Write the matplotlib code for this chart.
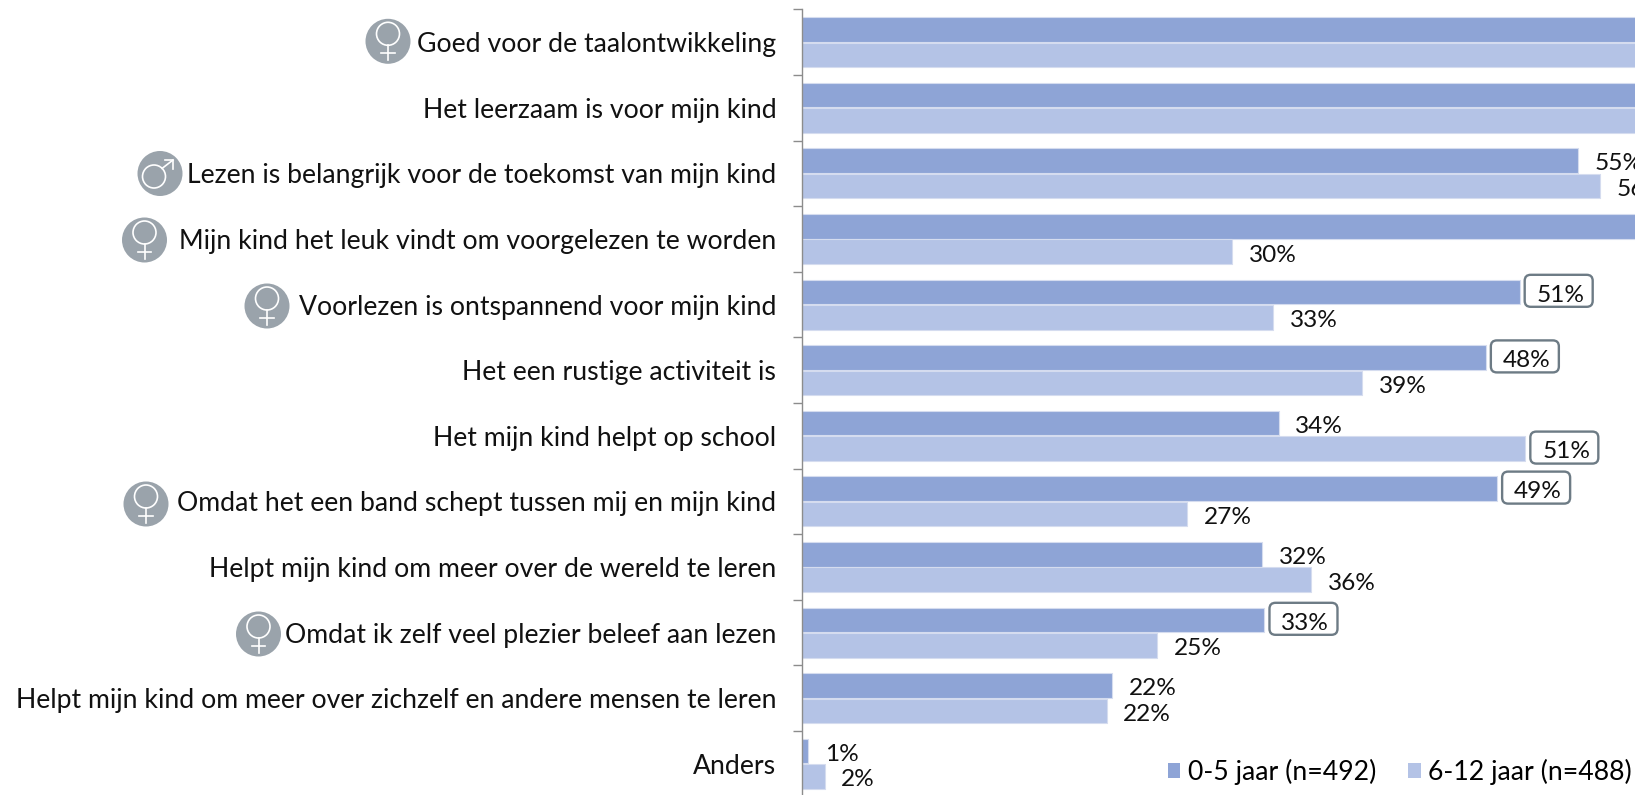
import matplotlib
matplotlib.use("Agg")
import matplotlib.pyplot as plt
from matplotlib.patches import Circle, Rectangle, FancyBboxPatch
from matplotlib.lines import Line2D
from matplotlib.transforms import IdentityTransform, ScaledTranslation

W, H = 1635, 795
categories = [
    "Goed voor de taalontwikkeling",
    "Het leerzaam is voor mijn kind",
    "Lezen is belangrijk voor de toekomst van mijn kind",
    "Mijn kind het leuk vindt om voorgelezen te worden",
    "Voorlezen is ontspannend voor mijn kind",
    "Het een rustige activiteit is",
    "Het mijn kind helpt op school",
    "Omdat het een band schept tussen mij en mijn kind",
    "Helpt mijn kind om meer over de wereld te leren",
    "Omdat ik zelf veel plezier beleef aan lezen",
    "Helpt mijn kind om meer over zichzelf en andere mensen te leren",
    "Anders",
]
# Values; the first rows run past the right edge of the crop.
young = [66, 62, 55.0, 61, 50.9, 48.5, 33.8, 49.3, 32.6, 32.8, 22.0, 0.45]
older = [63, 60, 56.6, 30.5, 33.4, 39.7, 51.3, 27.3, 36.1, 25.2, 21.6, 1.6]
young_labels = [None, None, "55%", None, "51%", "48%", "34%", "49%", "32%", "33%", "22%", "1%"]
older_labels = [None, None, "56%", "30%", "33%", "39%", "51%", "27%", "36%", "25%", "22%", "2%"]
young_boxed_rows = {4, 5, 7, 9}
older_boxed_rows = {6}
legend_labels = ["0-5 jaar (n=492)", "6-12 jaar (n=488)"]
icons = [("f", 388, 41.3), ("m", 160, 173.5), ("f", 144.5, 240), ("f", 267, 306),
         ("f", 146, 504), ("f", 258.5, 634)]

DARK, LIGHT = "#8ea4d6", "#b4c3e6"
GREY = "#9aa3ab"
BOX = "#6d7b85"
FONT = "Lato"
plt.rcParams["font.family"] = [FONT, "DejaVu Sans"]
FS_CAT = 19.2
FS_VAL = 17.6
FS_LEG = 19.2

fig = plt.figure(figsize=(W / 100, H / 100), dpi=100)
top, bottom = 9.4, 796.6
ax = fig.add_axes([802 / W, (H - bottom) / H, (W - 802) / W, (bottom - top) / H])
n = len(categories)
ys = list(range(n))
h = 0.375
ax.barh([y - 0.195 for y in ys], young, height=h, color=DARK, edgecolor="#d5dcef", linewidth=0.8)
ax.barh([y + 0.195 for y in ys], older, height=h, color=LIGHT, edgecolor="#d5dcef", linewidth=0.8)
ax.set_xlim(0, (W - 802) / 14.1)
ax.set_ylim(n - 0.5, -0.5)
for s in ("top", "right", "bottom"):
    ax.spines[s].set_visible(False)
ax.spines["left"].set_color("#8c8c8c")
ax.spines["left"].set_linewidth(1.0)
ax.xaxis.set_visible(False)
ax.set_yticks([i - 0.5 for i in range(n + 1)])
ax.set_yticklabels([])
ax.tick_params(axis="y", which="major", length=6.5, width=1.0, color="#8c8c8c")
ax.set_yticks(ys, minor=True)
ax.set_yticklabels(categories, minor=True, fontsize=FS_CAT, color="#111111")
ax.tick_params(axis="y", which="minor", length=0, pad=18.5)
shift = ScaledTranslation(0, 0.0 / 72, fig.dpi_scale_trans)
for t in ax.get_yticklabels(minor=True):
    t.set_transform(t.get_transform() + shift)


def put(val, y, txt, boxed):
    if txt is None:
        return
    if boxed:
        px, py = ax.transData.transform((val, y))
        ax.add_patch(FancyBboxPatch((px + 5, py - 15), 68, 32,
                                    boxstyle="round,pad=0,rounding_size=6", fc="white", ec=BOX, lw=1.7,
                                    transform=IdentityTransform(), clip_on=False, zorder=4))
    ax.annotate(txt, (val, y), xytext=(12.1, -2.4), textcoords="offset points", ha="left",
                va="center", fontsize=FS_VAL, color="#111111", annotation_clip=False, zorder=5)


for i in ys:
    put(young[i], i - 0.195, young_labels[i], i in young_boxed_rows)
    put(older[i], i + 0.195, older_labels[i], i in older_boxed_rows)

# Icons in an overlay with pixel coordinates
ov = fig.add_axes([0, 0, 1, 1], facecolor="none")
ov.set_xlim(0, W)
ov.set_ylim(H, 0)
ov.axis("off")
LW = 1.2
for kind, cx, cy in icons:
    ov.add_patch(Circle((cx, cy), 22.5, fc=GREY, ec="none"))
    if kind == "f":
        ov.add_patch(Circle((cx, cy - 7.5), 11.5, fc="none", ec="white", lw=LW))
        ov.add_line(Line2D([cx, cx], [cy + 4, cy + 18.5], color="white", lw=LW))
        ov.add_line(Line2D([cx - 6.7, cx + 6.7], [cy + 12, cy + 12], color="white", lw=LW))
    else:
        ov.add_patch(Circle((cx - 6, cy + 3), 11.5, fc="none", ec="white", lw=LW))
        ov.add_line(Line2D([cx + 2.1, cx + 13], [cy - 5.1, cy - 13.5], color="white", lw=LW))
        ov.add_line(Line2D([cx + 5, cx + 13, cx + 13], [cy - 13.5, cy - 13.5, cy - 5], color="white", lw=LW))

handles = [Rectangle((0, 0), 1, 1, fc=DARK, ec="none"), Rectangle((0, 0), 1, 1, fc=LIGHT, ec="none")]
fig.legend(handles, legend_labels, ncol=2, frameon=False, fontsize=FS_LEG,
           loc="center right", bbox_to_anchor=(1632 / W, 1 - 772 / H), bbox_transform=fig.transFigure,
           handlelength=0.47, handleheight=0.47, handletextpad=0.28, columnspacing=1.2,
           borderpad=0, borderaxespad=0)

fig.savefig("out.png", dpi=100)
